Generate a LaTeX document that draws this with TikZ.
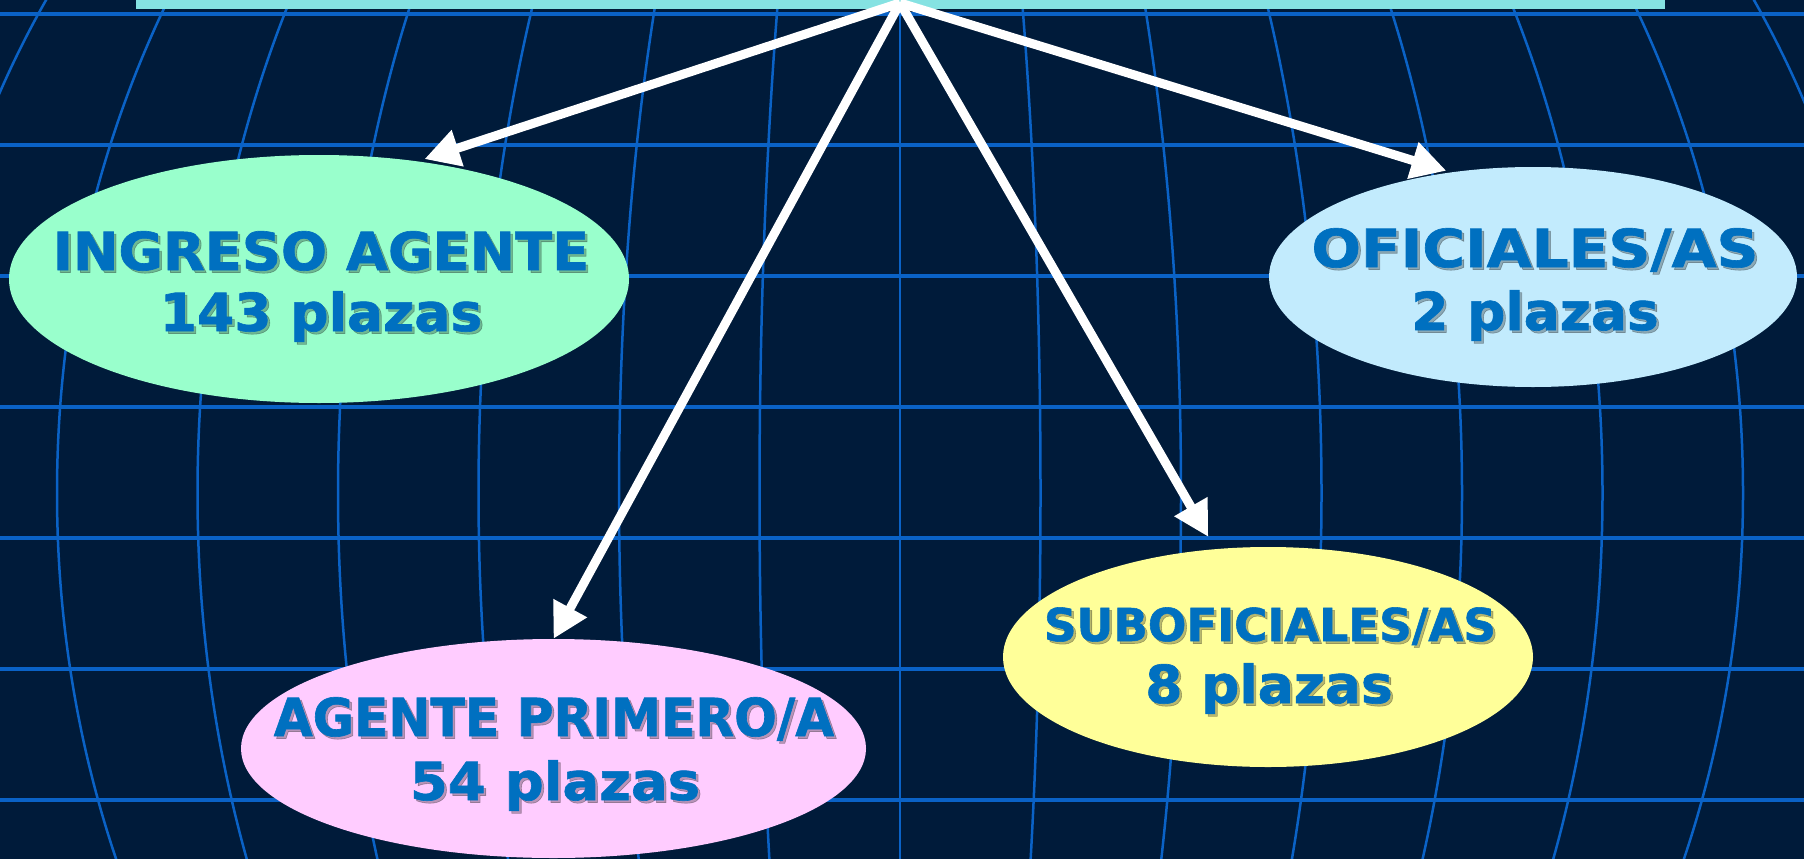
\documentclass[tikz,border=0pt]{standalone}
\usepackage{fontspec}
\setmainfont{DejaVu Sans}[BoldFeatures={FakeBold=1.2}]
\usetikzlibrary{shapes.geometric,arrows.meta}
\definecolor{bgnavy}{HTML}{001B3A}
\definecolor{gridblue}{HTML}{0A62C6}
\definecolor{barcyan}{HTML}{85E2E2}
\definecolor{txtblue}{HTML}{0070C0}
\definecolor{mintfill}{HTML}{99FFCC}
\definecolor{skyfill}{HTML}{C2EBFD}
\definecolor{pinkfill}{HTML}{FFCCFF}
\definecolor{yellfill}{HTML}{FFFF99}
\tikzset{
  lab/.style={anchor=base, inner sep=0pt, text=txtblue},
  labshadow/.style={anchor=base, inner sep=0pt, text=black, text opacity=0.28},
  oval/.style={ellipse, inner sep=0pt, draw=none},
  arr/.style={draw=white, line width=9pt, -{Triangle[length=35pt,width=36pt]}},
  hline/.style={draw=gridblue, line width=3.5pt},
  vline/.style={draw=gridblue, line width=2.5pt}
}
% name, x, y, size, text, xscale
\newcommand\mylabel[6]{%
  \node[labshadow, font=\bfseries\fontsize{#4}{#4}\selectfont] (#1s) at (#2+2.5,#3+2.5) {\scalebox{#6}[1]{#5}};
  \node[lab, font=\bfseries\fontsize{#4}{#4}\selectfont] (#1) at (#2,#3) {\scalebox{#6}[1]{#5}};
}
\begin{document}
\begin{tikzpicture}[x=1pt,y=-1pt]
\useasboundingbox (0,0) rectangle (1804,859);
\fill[bgnavy] (0,0) rectangle (1804,859);
\begin{scope}
  \clip (0,0) rectangle (1804,859);
  \foreach \k in {0,...,6} {
    \draw[hline] (0,14+131*\k) -- (1804,14+131*\k);
  }
  \draw[vline] (900,0) -- (900,859);
  \foreach \k in {1,...,7} {
    \draw[vline] (900,493) ellipse [x radius=140.5*\k, y radius=993];
  }
\end{scope}
\node[fill=barcyan, minimum width=1529pt, minimum height=9pt, inner sep=0pt, anchor=north west] (bar) at (136,0) {};
\coordinate (apex) at (900,3);

\node[oval, fill=mintfill, minimum width=620pt, minimum height=248pt] (ing) at (319,279) {};
\node[oval, fill=skyfill, minimum width=528pt, minimum height=220pt] (ofi) at (1533,277) {};
\node[oval, fill=pinkfill, minimum width=625pt, minimum height=219pt] (agp) at (553.5,748.5) {};
\node[oval, fill=yellfill, minimum width=530pt, minimum height=220pt] (sub) at (1268,657) {};

\mylabel{ingA}{321}{270}{52.4}{INGRESO AGENTE}{1.036}
\mylabel{ingB}{321}{331}{52.4}{143 plazas}{1.022}
\mylabel{ofiA}{1535}{267}{52.4}{OFICIALES/AS}{1.11}
\mylabel{ofiB}{1535}{330}{52.4}{2 plazas}{1.02}
\mylabel{subA}{1270}{641}{45.3}{SUBOFICIALES/AS}{1.0}
\mylabel{subB}{1269}{703}{52.4}{8 plazas}{1.02}
\mylabel{agpA}{554}{736}{52.4}{AGENTE PRIMERO/A}{0.96}
\mylabel{agpB}{555}{800}{52.4}{54 plazas}{1.04}

\draw[arr, shorten >=7pt] (apex) -- (ing.50);
\draw[arr] (apex) -- (agp.north);
\draw[arr, shorten >=14pt] (apex) -- (sub.116);
\draw[arr, shorten >=5pt] (apex) -- (ofi.128);
\end{tikzpicture}
\end{document}
